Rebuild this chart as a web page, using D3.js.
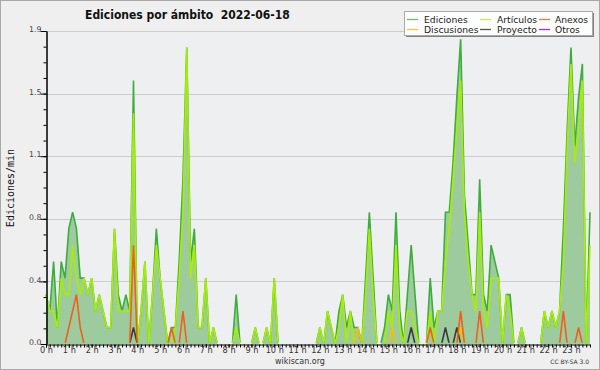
<!DOCTYPE html>
<html><head><meta charset="utf-8">
<script src="https://cdn.jsdelivr.net/npm/d3@7"></script>
<style>html,body{margin:0;padding:0;background:#efefef;}svg{display:block;}</style>
</head><body>
<script>
const hourLabels = ["0 h","1 h","2 h","3 h","4 h","5 h","6 h","7 h","8 h","9 h","10 h","11 h","12 h","13 h","14 h","15 h","16 h","17 h","18 h","19 h","20 h","21 h","22 h","23 h"];
const yTicks = [0, 0.38, 0.76, 1.14, 1.52, 1.9];
const legendNames = ["Ediciones","Artículos","Anexos","Discusiones","Proyecto","Otros"];
// 10-minute bins, 144 per day (edits per minute)
const ediciones = [
0.3,0.2,0.5,0.1,0.5,0.4,0.7,0.8,0.7,0.4,0.4,0.3,
0.4,0.2,0.3,0.2,0.1,0.1,0.7,0.3,0.2,0.3,0.2,1.6,
0,0.2,0.5,0,0.3,0.7,0.4,0.2,0,0.1,0.1,0.5,
1.0,1.8,0.5,0.7,0.1,0.1,0.4,0,0.1,0,0,0,
0,0,0.3,0,0,0,0,0.1,0,0,0.1,0,
0.4,0,0,0,0,0,0,0,0,0,0,0,
0.1,0,0.2,0.1,0,0.2,0.3,0.1,0.2,0.1,0.1,0,
0.4,0.8,0.4,0,0,0.1,0.3,0.2,0.8,0.2,0,0.3,
0.6,0.3,0,0,0,0.4,0.1,0.2,0.2,0.8,0.8,1.1,
1.5,1.85,0.9,0.6,0.3,0.3,1.0,0.3,0.2,0.6,0.5,0.4,
0,0.3,0.3,0,0,0.1,0,0,0,0,0,0.2,
0.1,0.2,0.1,0.2,0.7,1.3,1.8,1.2,1.5,1.7,0,0.8];
const articulos = [
0.3,0.2,0.2,0.1,0.4,0.3,0.3,0.6,0.4,0.3,0.4,0.3,
0.4,0.2,0.3,0.2,0.1,0.1,0.7,0.2,0.2,0.2,0.2,1.4,
0,0.2,0.5,0,0.3,0.6,0.4,0.2,0,0,0.1,0.4,
0.8,1.8,0.4,0.6,0.1,0.1,0.4,0,0.1,0,0,0,
0,0,0.1,0,0,0,0,0.1,0,0,0.1,0,
0.4,0,0,0,0,0,0,0,0,0,0,0,
0.1,0,0.2,0.1,0,0.1,0.3,0,0.2,0,0,0,
0.3,0.7,0.3,0,0,0,0.2,0.1,0.6,0.1,0,0.2,
0.2,0.1,0,0,0,0.2,0,0.2,0.2,0.5,0.7,1.0,
1.3,1.6,0.8,0.5,0.3,0.2,0.8,0.2,0.1,0.4,0.4,0.4,
0,0.3,0.2,0,0,0.1,0,0,0,0,0,0.2,
0.1,0.2,0.1,0.2,0.5,1.2,1.7,1.1,1.3,1.6,0,0.6];
const anexos = [
0,0,0,0,0,0,0.1,0.2,0.3,0.1,0,0,
0,0,0,0,0,0,0,0,0,0,0,0.6,
0,0,0,0,0,0,0,0,0,0.1,0,0,
0.2,0,0,0,0,0,0,0,0,0,0,0,
0,0,0,0,0,0,0,0,0,0,0,0,
0,0,0,0,0,0,0,0,0,0,0,0,
0,0,0,0,0,0,0,0,0,0,0,0,
0,0,0,0,0,0,0,0,0,0,0,0,
0,0,0,0,0,0.1,0,0,0,0,0,0,
0,0.2,0,0,0,0,0.2,0,0,0,0,0,
0,0,0,0,0,0,0,0,0,0,0,0,
0,0,0,0,0.2,0,0,0,0.1,0,0,0];
const discusiones = [
0,0,0,0,0,0,0,0,0,0,0,0,
0,0,0,0,0,0,0,0,0,0,0,0,
0,0,0,0,0,0,0,0,0,0,0,0,
0,0,0,0,0,0,0,0,0,0,0,0,
0,0,0,0,0,0,0,0,0,0,0,0,
0,0,0,0,0,0,0,0,0,0,0,0,
0,0,0,0,0,0,0,0,0,0,0.1,0,
0,0,0,0,0,0,0,0.1,0,0,0,0,
0,0,0,0,0,0,0,0,0,0,0,0,
0,0.1,0,0,0,0,0,0,0,0,0,0,
0,0,0,0,0,0,0,0,0,0,0,0,
0,0,0,0,0,0,0,0,0,0,0,0];
const proyecto = [
0,0,0,0,0,0,0,0,0,0,0,0,
0,0,0,0,0,0,0,0,0,0,0,0.1,
0,0,0,0,0,0,0,0,0,0,0,0,
0,0,0,0,0,0,0,0,0,0,0,0,
0,0,0,0,0,0,0,0,0,0,0,0,
0,0,0,0,0,0,0,0,0,0,0,0,
0,0,0,0,0,0,0,0,0,0,0,0,
0,0,0,0,0,0,0,0,0,0,0,0,
0.1,0,0,0,0,0,0,0,0,0.1,0,0,
0.1,0,0,0,0,0,0,0,0,0,0,0,
0,0,0,0,0,0,0,0,0,0,0,0,
0,0,0,0,0,0,0,0,0,0,0,0];
const otros = [
0,0,0,0,0,0,0,0,0,0,0,0, 0,0,0,0,0,0,0,0,0,0,0,0,
0,0,0,0,0,0,0,0,0,0,0,0, 0,0,0,0,0,0,0,0,0,0,0,0,
0,0,0,0,0,0,0,0,0,0,0,0, 0,0,0,0,0,0,0,0,0,0,0,0,
0,0,0,0,0,0,0,0,0,0,0,0, 0,0,0,0,0,0,0,0,0,0,0,0,
0,0,0,0,0,0,0,0,0,0,0,0, 0,0,0,0,0,0,0,0,0,0,0,0,
0,0,0,0,0,0,0,0,0,0,0,0, 0,0,0,0,0,0,0,0,0,0,0,0];

const W = 600, H = 370;
const svg = d3.select("body").append("svg").attr("width", W).attr("height", H);
svg.append("rect").attr("x",0.5).attr("y",0.5).attr("width",W-1).attr("height",H-1)
  .attr("fill","#efefef").attr("stroke","#a8a8a8").attr("stroke-width",1);

const x = d3.scaleLinear().domain([0, 143]).range([46, 590]);
const y = d3.scaleLinear().domain([0, 1.9]).range([344, 31]);

// plot background
svg.append("rect").attr("x",46).attr("y",31).attr("width",544).attr("height",313).attr("fill","#eeeff1");

// grid
svg.append("g").selectAll("line").data(yTicks.slice(1)).join("line")
  .attr("x1",46).attr("x2",590).attr("y1",d=>Math.round(y(d))+0.5).attr("y2",d=>Math.round(y(d))+0.5)
  .attr("stroke","#cccccc").attr("stroke-width",1);

const idx = d3.range(144);
const area = d3.area().x(i=>x(i)).y0(y(0)).y1(i=>y(ediciones[i]));
svg.append("path").datum(idx).attr("d",area).attr("fill","#9ecb9e");

svg.append("clipPath").attr("id","clip").append("rect").attr("x",40).attr("y",20).attr("width",556).attr("height",y(0)-20-1.2);
const gl = svg.append("g").attr("clip-path","url(#clip)");
const series = [
  {v: ediciones, c:"#3cae3c"},
  {v: articulos, c:"#a8ee00"},
  {v: discusiones, c:"#f2c200"},
  {v: proyecto, c:"#3a3a3a"},
  {v: anexos, c:"#f0601a"},
  {v: otros, c:"#9933ff"}
];
series.forEach(s=>{
  gl.append("path").datum(idx)
    .attr("d", d3.line().x(i=>x(i)).y(i=>y(s.v[i])))
    .attr("fill","none").attr("stroke",s.c).attr("stroke-width",1.6).attr("stroke-linejoin","miter");
});

// Y axis
const minorY = d3.range(0, 21).map(k=>k*0.095);
const yAxisMinor = d3.axisLeft(y).tickValues(minorY).tickSize(3).tickSizeOuter(0).tickFormat("");
const yAxis = d3.axisLeft(y).tickValues(yTicks).tickSize(6).tickSizeOuter(0).tickFormat(d3.format(".1f"));
const gyM = svg.append("g").attr("transform","translate(46.5,0)").call(yAxisMinor);
const gy = svg.append("g").attr("transform","translate(46.5,0)").call(yAxis);
[gy, gyM].forEach(g=>{ g.selectAll("line").attr("stroke","#000"); g.select(".domain").attr("stroke","#000"); });
gy.selectAll("text").attr("font-family","DejaVu Sans").attr("font-size",7.8).attr("fill","#444").attr("x",-5).attr("dy","0.1em")
  .attr("text-anchor","end");

// X axis
const xAxisMinor = d3.axisBottom(x).tickValues(idx).tickSize(3).tickSizeOuter(0).tickFormat("");
const gx = svg.append("g").attr("transform","translate(0,344.5)").call(xAxisMinor);
gx.selectAll("line").attr("stroke","#000"); gx.select(".domain").attr("stroke","#000");
const hourIdx = d3.range(24).map(h=>h*6);
const xAxisH = d3.axisBottom(x).tickValues(hourIdx).tickSize(3).tickSizeOuter(0).tickFormat((d,k)=>hourLabels[k]);
const gxh = svg.append("g").attr("transform","translate(0,344.5)").call(xAxisH);
gxh.select(".domain").remove();
gxh.selectAll("line").attr("stroke","#000");
gxh.selectAll("text").attr("font-family","DejaVu Sans").attr("font-size",8.2).attr("fill","#333").attr("y",3).attr("dy","0.71em");

// Title
svg.append("text").attr("x",85).attr("y",18.5).attr("font-family","DejaVu Sans Condensed, DejaVu Sans").attr("font-weight","bold")
  .attr("font-size",12).attr("fill","#111").style("white-space","pre").text("Ediciones por ámbito  2022-06-18");

// Y title
svg.append("text").attr("transform","translate(13.5,188) rotate(-90)").attr("text-anchor","middle")
  .attr("font-family","DejaVu Sans Mono").attr("font-size",10).attr("fill","#111").text("Ediciones/min");

// footer
svg.append("text").attr("x",300).attr("y",364).attr("text-anchor","middle").attr("font-family","DejaVu Sans")
  .attr("font-size",8).attr("fill","#333").text("wikiscan.org");
svg.append("text").attr("x",589).attr("y",364).attr("text-anchor","end").attr("font-family","DejaVu Sans")
  .attr("font-size",6).attr("fill","#333").text("CC BY-SA 3.0");

// Legend
const lg = svg.append("g");
lg.append("rect").attr("x",406).attr("y",13).attr("width",188).attr("height",24).attr("fill","#808080");
lg.append("rect").attr("x",404.5).attr("y",11.5).attr("width",188).attr("height",24).attr("fill","#fdfdfd").attr("stroke","#aaa");
const legColors = ["#66c466","#c8ec40","#f57840","#f5c830","#555555","#9933ee"];
const legPos = [[407,424,19],[480,497,19],[539,555,19],[407,424,29],[480,497,29],[539,555,29]];
legendNames.forEach((n,k)=>{
  const p = legPos[k];
  lg.append("line").attr("x1",p[0]).attr("x2",p[0]+11).attr("y1",p[2]+0.5).attr("y2",p[2]+0.5).attr("stroke",legColors[k]).attr("stroke-width",1.3);
  lg.append("text").attr("x",p[1]).attr("y",p[2]+3.5).attr("font-family","DejaVu Sans").attr("font-size",9.2).attr("fill","#222").text(n);
});
</script>
</body></html>
